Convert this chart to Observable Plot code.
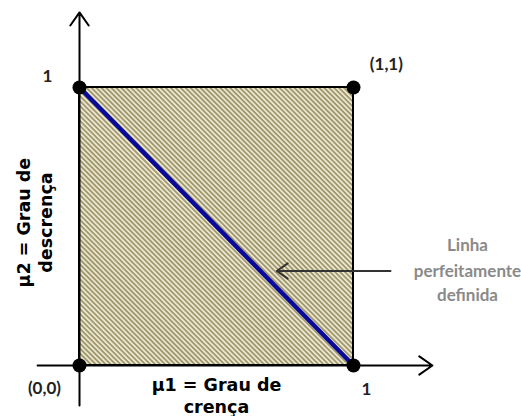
<!DOCTYPE html>
<html><head><meta charset="utf-8">
<script src="https://cdn.jsdelivr.net/npm/d3@7"></script>
<script src="https://cdn.jsdelivr.net/npm/@observablehq/plot@0.6"></script>
<style>body{margin:0;background:#fff}</style>
</head><body><div id="chart"></div>
<script>
const corners = [{x:0,y:0},{x:1,y:0},{x:0,y:1},{x:1,y:1}];
const square = [{x1:0,x2:1,y1:0,y2:1}];
const perfectLine = [{x:0,y:1},{x:1,y:0}];
const axesArrows = [{x1:0,y1:-0.144,x2:0,y2:1.27},{x1:-0.153,y1:0,x2:1.288,y2:0}];
const pointer = [{x1:1.135,y1:0.34,x2:0.72,y2:0.34}];
const cornerLabels = [
  {x:-0.117,y:1.04,text:"1"},
  {x:1.12,y:1.083,text:"(1,1)"},
  {x:-0.128,y:-0.083,text:"(0,0)"},
  {x:1.047,y:-0.086,text:"1"}
];
const noteLines = [
  {x:1.416,y:0.432,text:"Linha"},
  {x:1.416,y:0.338,text:"perfeitamente"},
  {x:1.416,y:0.252,text:"definida"}
];
const xLabel = [{x:0.5,y:-0.072,text:"µ1 = Grau de"},{x:0.5,y:-0.151,text:"crença"}];
const yLabel = [{x:-0.2,y:0.514,text:"µ2 = Grau de"},{x:-0.122,y:0.514,text:"descrença"}];

const plot = Plot.plot({
  width:521, height:416,
  marginLeft:79, marginRight:168, marginTop:87, marginBottom:51,
  x:{domain:[0,1], axis:null},
  y:{domain:[0,1], axis:null},
  marks:[
    Plot.rect(square,{x1:"x1",x2:"x2",y1:"y1",y2:"y2",fill:"url(#hatch)",stroke:"black",strokeWidth:2}),
    Plot.arrow(axesArrows,{x1:"x1",y1:"y1",x2:"x2",y2:"y2",stroke:"black",strokeWidth:2,headLength:12,headAngle:70}),
    Plot.line(perfectLine,{x:"x",y:"y",stroke:"#0a0a9a",strokeWidth:4.5}),
    Plot.arrow(pointer,{x1:"x1",y1:"y1",x2:"x2",y2:"y2",stroke:"#333",strokeWidth:2,headLength:10,headAngle:70}),
    Plot.dot(corners,{x:"x",y:"y",r:7,fill:"black"}),
    Plot.text(cornerLabels,{x:"x",y:"y",text:"text",fontSize:17,fontWeight:"bold",fontFamily:"Lato",fill:"#222"}),
    Plot.text(noteLines,{x:"x",y:"y",text:"text",fontSize:17,fontWeight:"bold",fontFamily:"Lato",fill:"#8a8a8a"}),
    Plot.text(xLabel,{x:"x",y:"y",text:"text",fontSize:17.5,fontWeight:"bold",fontFamily:"DejaVu Sans",fill:"black"}),
    Plot.text(yLabel,{x:"x",y:"y",text:"text",rotate:-90,fontSize:17.5,fontWeight:"bold",fontFamily:"DejaVu Sans",fill:"black"})
  ]
});
const ns="http://www.w3.org/2000/svg";
const defs=document.createElementNS(ns,"defs");
defs.innerHTML=`<pattern id="hatch" patternUnits="userSpaceOnUse" width="3.5" height="3.5" patternTransform="rotate(45)">
<rect width="3.5" height="3.5" fill="#ece8d2"/><rect width="3.5" height="1.8" fill="#a0976c"/></pattern>`;
plot.insertBefore(defs, plot.firstChild);
document.getElementById("chart").appendChild(plot);
</script></body></html>
